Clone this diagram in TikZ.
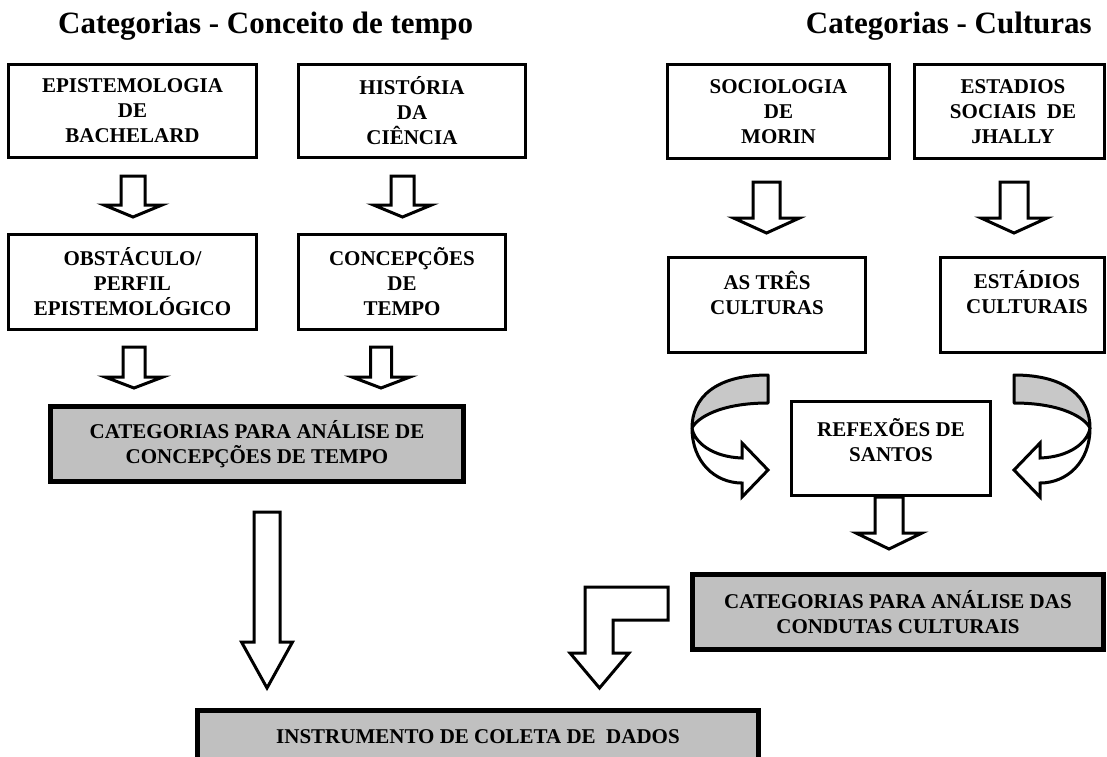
\documentclass[tikz,border=0pt]{standalone}
\usepackage{fontspec}
\setmainfont{Liberation Serif}
\definecolor{boxgray}{RGB}{192,192,192}
\definecolor{ribgray}{RGB}{200,200,200}
\newcommand\boxfont{\fontsize{21}{25}\selectfont\bfseries}
\newcommand\titlefont{\fontsize{31}{36}\selectfont\bfseries}
% style, name, x1, y1, x2, y2, text  (stroke-centre coordinates)
\newcommand\mkbox[7]{\node[#1, minimum width={#5-#3}, minimum height={#6-#4}] (#2) at ({(#3+#5)/2},{(#4+#6)/2}) {#7};}
% cx, ytop, yhead, ytip, stem half width, head half width
\newcommand\blockarrow[6]{\draw[barrow] ({#1-#5},#2) -- ({#1+#5},#2) -- ({#1+#5},#3) -- ({#1+#6},#3) -- (#1,#4) -- ({#1-#6},#3) -- ({#1-#5},#3) -- cycle;}
\begin{document}
\begin{tikzpicture}[x=1pt,y=-1pt,
  box/.style={draw, line width=3pt, fill=white, inner sep=0pt, align=center, font=\boxfont},
  gbox/.style={draw, line width=5pt, fill=boxgray, inner sep=0pt, align=center, font=\boxfont},
  txt/.style={inner sep=0pt, align=center, font=\boxfont},
  ttl/.style={inner sep=0pt, font=\titlefont},
  barrow/.style={draw, line width=3pt, fill=white, line join=miter},
  ribback/.style={draw, line width=3pt, fill=ribgray, line join=round},
  ribfront/.style={draw, line width=3pt, fill=white, line join=miter}]
\clip (0,0) rectangle (1107,756);
\fill[white] (0,0) rectangle (1107,756);

% titles
\node[ttl, anchor=base west] (t1) at (58,33) {Categorias - Conceito de tempo};
\node[ttl, anchor=base east] (t2) at (1092,33) {Categorias - Culturas};

% left column
\mkbox{box}{epi}{8.5}{64.5}{256.5}{157.5}{EPISTEMOLOGIA\\DE\\BACHELARD}
\mkbox{box}{hist}{298.5}{64.5}{525.5}{157.5}{HISTÓRIA\\DA\\CIÊNCIA}
\mkbox{box}{obs}{8.5}{234.5}{256.5}{329.5}{OBSTÁCULO/\\PERFIL\\EPISTEMOLÓGICO}
\mkbox{box}{conc}{298.5}{234.5}{505.5}{329.5}{CONCEPÇÕES\\DE\\TEMPO}
\mkbox{gbox}{catt}{50.5}{406.5}{463.5}{481.5}{CATEGORIAS PARA ANÁLISE DE\\CONCEPÇÕES DE TEMPO}

\blockarrow{133}{176}{205}{217}{12}{29}
\blockarrow{402.5}{176}{205}{217}{11.5}{29}
\blockarrow{134}{347}{377}{388}{11}{29}
\blockarrow{381}{347}{377}{388}{10.5}{29}
\blockarrow{267}{512}{642}{688}{13}{25.5}

% right column
\mkbox{box}{soc}{667.5}{64.5}{889.5}{158.5}{SOCIOLOGIA\\DE\\MORIN}
\mkbox{box}{est}{914.5}{64.5}{1104.5}{158.5}{}
\node[txt] (esttxt) at (1013,111.5) {ESTADIOS\\SOCIAIS~~DE\\JHALLY};
\mkbox{box}{tres}{668.5}{257.5}{865.5}{352.5}{}
\node[txt] (trestxt) at (767,292.5) {AS TRÊS\\CULTURAS};
\mkbox{box}{estc}{940.5}{257.5}{1104.5}{352.5}{}
\node[txt] (estctxt) at (1027,292.5) {ESTÁDIOS\\CULTURAIS};

\blockarrow{766.5}{182}{218}{233}{13.5}{33}
\blockarrow{1014}{182}{218}{233}{14}{33}

% curved arrows
\begin{scope}[shift={(891,0)}]
  \foreach \s in {1,-1}{
  \begin{scope}[xscale=\s]
    \draw[ribback] (-123,375) .. controls (-176,375) and (-199,398) .. (-199,428)
       .. controls (-194,418) and (-171,403) .. (-123,403) -- cycle;
    \draw[ribfront] (-199,428) .. controls (-199,462) and (-176,483) .. (-149,483)
       -- (-149,497) -- (-123,470) -- (-149,443) -- (-149,458)
       .. controls (-179,457) and (-197,442) .. (-199,428) -- cycle;
  \end{scope}}
\end{scope}

\mkbox{box}{refl}{791.5}{401.5}{990.5}{495.5}{}
\node[txt] (refltxt) at (891,440) {REFEXÕES DE\\SANTOS};

\blockarrow{889}{497}{533}{549}{14}{33}

\mkbox{gbox}{catc}{692.5}{574.5}{1103.5}{649.5}{CATEGORIAS PARA ANÁLISE DAS\\CONDUTAS CULTURAIS}

% L-shaped arrow
\draw[barrow] (585,587) -- (668,587) -- (668,620) -- (613,620) -- (613,653)
  -- (629,653) -- (599.5,688) -- (570,653) -- (585,653) -- cycle;

% bottom box
\mkbox{gbox}{inst}{197.5}{710.5}{758.5}{790}{}
\node[txt] (insttxt) at (478,737) {INSTRUMENTO DE COLETA DE~~DADOS};
\end{tikzpicture}
\end{document}
